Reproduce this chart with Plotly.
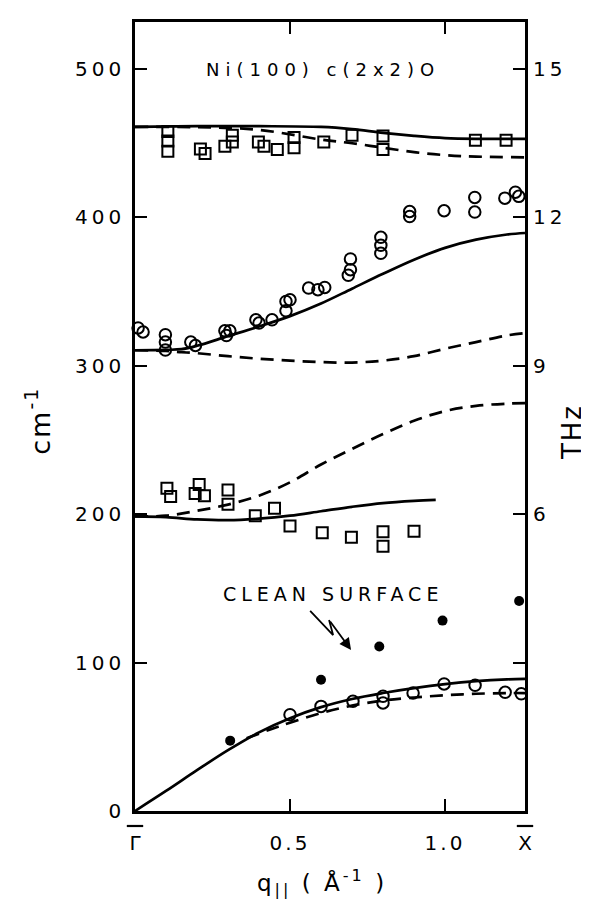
import plotly.graph_objects as go

# ---------------- data (q in 1/Angstrom, frequency in cm^-1) ----------------
# theory curves
q_upper = [0, 0.2, 0.4, 0.6, 0.7, 0.8, 0.9, 1.0, 1.1, 1.258]
upper_solid = [461, 461.5, 461.5, 461, 459.5, 457, 455, 453.5, 453, 453]
upper_dashed = [461, 460.8, 459, 452.5, 450, 447, 444, 442, 441, 440.5]

q_mid = [0, 0.1, 0.15, 0.2, 0.3, 0.4, 0.5, 0.6, 0.7, 0.8, 0.9, 1.0, 1.1, 1.2, 1.258]
mid_solid = [310.5, 310.8, 311.2, 313.5, 320, 326.5, 333.5, 342, 352, 362, 371.5, 379.5, 385, 388.5, 389.5]
mid_dashed = [310.5, 310, 309.2, 308.5, 306.5, 304.8, 303.5, 302.5, 302.2, 303.5, 306.5, 311.5, 316, 320.5, 322]

q_low_dashed = [0, 0.1, 0.2, 0.3, 0.4, 0.5, 0.6, 0.7, 0.8, 0.9, 1.0, 1.1, 1.2, 1.258]
low_dashed = [198.5, 199, 202.3, 206.5, 212.5, 221.5, 233.5, 244, 254, 263, 269.5, 273, 274.5, 274.8]
q_low_solid = [0, 0.1, 0.2, 0.3, 0.4, 0.5, 0.6, 0.7, 0.8, 0.9, 0.97]
low_solid = [198.5, 198, 196.5, 196, 197, 199, 202, 205, 207.5, 209, 209.7]

q_ac_solid = [0, 0.1, 0.2, 0.3, 0.4, 0.5, 0.6, 0.7, 0.8, 0.9, 1.0, 1.1, 1.2, 1.258]
ac_solid = [0, 13.5, 27.5, 41, 53, 62.5, 70, 75.5, 79.5, 82.8, 85.5, 87.5, 88.7, 89]
q_ac_dashed = [0.36, 0.45, 0.5, 0.6, 0.7, 0.8, 0.9, 1.0, 1.1, 1.2, 1.258]
ac_dashed = [49, 56, 59.5, 66, 71, 74.5, 76.5, 78, 79, 79.5, 79.5]

# measured points: squares
sq_q = [0.106, 0.106, 0.106, 0.211, 0.226, 0.29, 0.314, 0.314, 0.398, 0.416, 0.459,
        0.513, 0.513, 0.609, 0.70, 0.80, 0.80, 1.098, 1.197,
        0.103, 0.115, 0.194, 0.207, 0.224, 0.30, 0.30, 0.388, 0.45, 0.50,
        0.604, 0.698, 0.80, 0.80, 0.90]
sq_f = [457.9, 451.5, 444.6, 446.2, 443, 448, 455.4, 450.8, 450.8, 448, 445.8,
        453.8, 446.9, 450.8, 455.4, 454.9, 445.8, 452, 452,
        217.5, 212, 214, 220, 212.5, 216.4, 206.8, 198.9, 204.1, 192,
        187.5, 184.5, 188.2, 178.4, 188.6]

# measured points: open circles
ci_q = [0.01, 0.026, 0.098, 0.098, 0.098, 0.18, 0.195, 0.29, 0.306, 0.295,
        0.39, 0.40, 0.442, 0.487, 0.50, 0.487, 0.56, 0.59, 0.612,
        0.695, 0.695, 0.688, 0.793, 0.793, 0.793, 0.886, 0.886, 0.997,
        1.096, 1.096, 1.193, 1.227, 1.238,
        0.50, 0.60, 0.703, 0.80, 0.80, 0.897, 0.997, 1.097, 1.194, 1.246]
ci_f = [325.5, 322.8, 321, 316, 310.6, 316, 313.7, 323.6, 323.6, 320.4,
        331, 328.8, 331, 343.4, 344.5, 337.1, 352.4, 351.3, 352.8,
        372, 364.8, 361, 386.6, 381.2, 375.8, 404, 400.6, 404.5,
        413.5, 403.6, 413, 417, 414.2,
        64.9, 70.5, 73.9, 77.3, 72.8, 79.5, 85.6, 84.7, 80, 79]

# clean surface (filled dots)
cl_q = [0.307, 0.60, 0.788, 0.992, 1.239]
cl_f = [47.4, 88.5, 110.9, 128.3, 141.5]

# axes
x_max = 1.258
y_max = 531.7
CM_PER_THZ = 33.356
x_tickvals = [0, 0.5, 1.0, x_max]
x_ticktext = ["Γ", "0.5", "1.0", "X"]
y_tickvals = [0, 100, 200, 300, 400, 500]
y_ticktext = ["0", "100", "200", "300", "400", "500"]
thz_tickvals = [3, 6, 9, 12, 15]
thz_ticktext = ["", "6", "9", "12", "15"]

# ---------------- figure ----------------
FONT = "DejaVu Sans"
LW = 2.7
DASH = "13px,8px"


def sp(t, ls):
    return "<span style='letter-spacing:%dpx'>%s</span>" % (ls, t)


fig = go.Figure()


def line(x, y, dash=None):
    fig.add_trace(go.Scatter(x=x, y=y, mode="lines", line_shape="spline",
                             line=dict(color="black", width=LW, dash=dash or "solid"),
                             showlegend=False, hoverinfo="skip", cliponaxis=False))


line(q_upper, upper_solid)
line(q_upper, upper_dashed, DASH)
line(q_mid, mid_solid)
line(q_mid, mid_dashed, DASH)
line(q_low_solid, low_solid)
line(q_low_dashed, low_dashed, DASH)
line(q_ac_solid, ac_solid)
line(q_ac_dashed, ac_dashed, DASH)

fig.add_trace(go.Scatter(x=sq_q, y=sq_f, mode="markers", cliponaxis=False, showlegend=False,
                         marker=dict(symbol="square-open", size=11, color="black",
                                     line=dict(width=2, color="black"))))
fig.add_trace(go.Scatter(x=ci_q, y=ci_f, mode="markers", cliponaxis=False, showlegend=False,
                         marker=dict(symbol="circle-open", size=11.5, color="black",
                                     line=dict(width=2, color="black"))))
fig.add_trace(go.Scatter(x=cl_q, y=cl_f, mode="markers", cliponaxis=False, showlegend=False,
                         marker=dict(symbol="circle", size=10, color="black")))
# trace on the THz axis so that it is drawn
fig.add_trace(go.Scatter(x=[None], y=[None], yaxis="y2", showlegend=False))

tickfont = dict(family=FONT, size=20, color="black")
x_labels = [t if t in ("Γ", "X") else sp(t, 3) for t in x_ticktext]

fig.update_layout(
    width=589, height=901,
    margin=dict(l=127, r=72, t=14, b=98),
    paper_bgcolor="white", plot_bgcolor="white",
    font=dict(family=FONT, color="black"),
    xaxis=dict(range=[0, x_max], showgrid=False, zeroline=False,
               showline=True, linecolor="black", linewidth=LW, mirror="ticks",
               ticks="inside", ticklen=12, tickwidth=2, tickcolor="black",
               tickmode="array", tickvals=x_tickvals, ticktext=x_labels,
               tickfont=tickfont, ticklabelstandoff=12),
    yaxis=dict(range=[0, y_max], showgrid=False, zeroline=False,
               showline=True, linecolor="black", linewidth=LW, mirror=True,
               ticks="inside", ticklen=12, tickwidth=2, tickcolor="black",
               tickmode="array", tickvals=y_tickvals,
               ticktext=[sp(t, 4) for t in y_ticktext],
               tickfont=tickfont, ticklabelstandoff=3),
    yaxis2=dict(overlaying="y", side="right", range=[0, y_max / CM_PER_THZ],
                showgrid=False, zeroline=False, showline=False,
                ticks="inside", ticklen=12, tickwidth=2, tickcolor="black",
                tickmode="array", tickvals=thz_tickvals,
                ticktext=[sp(t, 4) for t in thz_ticktext],
                tickfont=tickfont, ticklabelstandoff=7),
)

# overbars above the Gamma and X labels
for xp in [0, 1]:
    fig.add_shape(type="line", xref="paper", yref="paper", x0=xp - 0.021, x1=xp + 0.021,
                  y0=-0.019, y1=-0.019, line=dict(color="black", width=2.2))

# title
fig.add_annotation(x=0.606, y=500, xref="x", yref="y", showarrow=False,
                   xanchor="center", yanchor="middle",
                   text=sp("Ni(100) c(2x2)O", 6), font=dict(family=FONT, size=18, color="black"))
# clean surface label with zigzag arrow
fig.add_annotation(x=0.639, y=146, xref="x", yref="y", showarrow=False,
                   xanchor="center", yanchor="middle",
                   text=sp("CLEAN SURFACE", 5), font=dict(family=FONT, size=19, color="black"))
fig.add_shape(type="path", xref="x", yref="y",
              path="M 0.565 134.8 L 0.639 118.6 L 0.626 128.7",
              line=dict(color="black", width=1.8))
fig.add_annotation(x=0.697, y=108.5, ax=0.626, ay=128.7, xref="x", yref="y",
                   axref="x", ayref="y", text="", showarrow=True,
                   arrowhead=2, arrowsize=1.3, arrowwidth=1.8, arrowcolor="black")
# axis titles
fig.add_annotation(x=-0.25, y=0.494, xref="paper", yref="paper", showarrow=False,
                   xanchor="center", yanchor="middle",
                   text=sp("cm<sup>-1</sup>", 2), textangle=-90,
                   font=dict(family=FONT, size=27, color="black"))
fig.add_annotation(x=1.12, y=0.480, xref="paper", yref="paper", showarrow=False,
                   xanchor="center", yanchor="middle",
                   text=sp("THz", 2), textangle=-90,
                   font=dict(family=FONT, size=26, color="black"))
fig.add_annotation(x=0.479, y=-0.09, xref="paper", yref="paper", showarrow=False,
                   xanchor="center", yanchor="middle",
                   text=sp("q<sub>||</sub> ( Å<sup>-1</sup> )", 3),
                   font=dict(family=FONT, size=23, color="black"))

fig.write_html("out.html")
